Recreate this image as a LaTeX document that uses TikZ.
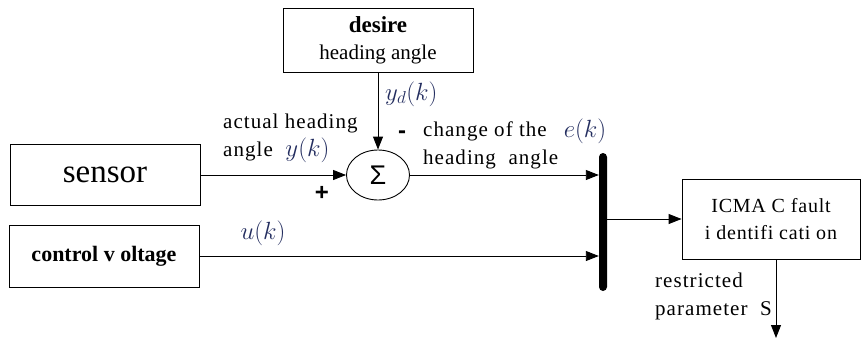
\documentclass[tikz,border=0pt]{standalone}
\usepackage{fontspec}
\setmainfont{Liberation Serif}
\newfontfamily\sigmafont{Liberation Sans}
\usetikzlibrary{arrows.meta,shapes.geometric}
\definecolor{mathc}{RGB}{35,45,95}
\tikzset{
  blk/.style={draw, line width=0.9pt, inner sep=0pt},
  conn/.style={line width=0.9pt, -{Triangle[length=13pt,width=10pt]}},
  lbl/.style={font=\fontsize{21}{28}\selectfont\addfontfeature{LetterSpace=5}, align=left, inner sep=0pt},
  mlbl/.style={font=\fontsize{25}{26}\selectfont, text=mathc, inner sep=0pt},
}
\begin{document}
\begin{tikzpicture}[x=1pt,y=-1pt]
\useasboundingbox (0,0) rectangle (861,340);
% blocks
\node[blk, minimum width=190pt, minimum height=64pt, align=center, font=\fontsize{21}{27}\selectfont] (desire) at (378,40) {{\fontsize{23}{27}\selectfont\textbf{desire}}\\heading angle};
\node[blk, minimum width=190pt, minimum height=61pt, font=\fontsize{33}{34}\selectfont] (sensor) at (105,174.5) {sensor};
\node[blk, minimum width=190pt, minimum height=62pt, font=\fontsize{22}{24}\selectfont\bfseries] (cv) at (104,256) {control v oltage};
\node[draw, ellipse, line width=0.9pt, minimum width=63pt, minimum height=50pt, inner sep=0pt, font=\sigmafont\fontsize{27}{27}\selectfont] (sum) at (378,175) {Σ};
\node[fill=black, rounded corners=4pt, minimum width=8pt, minimum height=138pt, inner sep=0pt] (bar) at (603,222) {};
\node[blk, minimum width=178pt, minimum height=80pt, align=center, font=\fontsize{20}{27}\selectfont\addfontfeature{LetterSpace=4}] (icmac) at (771,219) {ICMA C fault\\i dentifi cati on};
\coordinate (out) at (776,338);
% connectors
\draw[conn] (desire.south -| sum.north) -- (sum.north);
\draw[conn] (sensor.east |- sum.west) -- (sum.west);
\draw[conn] (sum.east) -- (bar.west |- sum.east);
\draw[conn] (cv.east) -- (bar.west |- cv.east);
\draw[conn] (bar.east |- icmac.west) -- (icmac.west);
\draw[conn] (icmac.south -| out) -- (out);
% labels
\node[mlbl, anchor=west] (yd) at (385,94) {$y_d(k)$};
\node[lbl, anchor=west] (act) at (223,138) {actual heading\\angle\ \ \textcolor{mathc}{\fontsize{25}{26}\selectfont$y(k)$}};
\node[lbl, anchor=west] (chg) at (423,145) {change of the\\heading\ \ angle};
\node[font=\sigmafont\fontsize{24}{24}\selectfont\bfseries, inner sep=0pt] (minus) at (402,135) {-};
\node[font=\sigmafont\fontsize{24}{24}\selectfont\bfseries, inner sep=0pt] (plus) at (322,193) {+};
\node[mlbl] (ek) at (585,131) {$e(k)$};
\node[mlbl] (uk) at (263,233) {$u(k)$};
\node[lbl, anchor=west] (rp) at (655,296) {restricted\\parameter\ \ S};
\end{tikzpicture}
\end{document}
